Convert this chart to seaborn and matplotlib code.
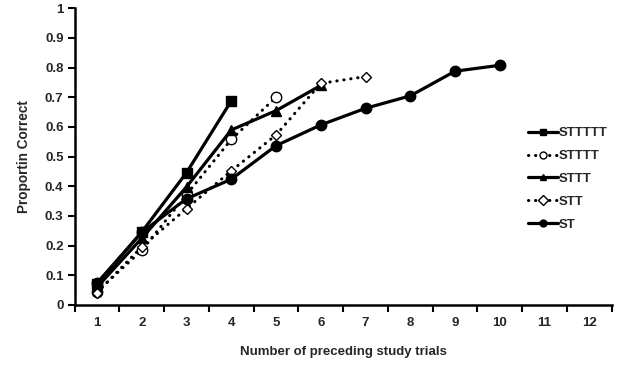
import numpy as np
import pandas as pd
import seaborn as sns
from matplotlib import pyplot as plt

# values
trials = [1, 2, 3, 4, 5, 6, 7, 8, 9, 10]
st_vals = [0.074, 0.245, 0.358, 0.424, 0.537, 0.607, 0.663, 0.705, 0.788, 0.808]
stt_vals = [0.042, 0.196, 0.325, 0.452, 0.573, 0.747, 0.77]
sttt_vals = [0.06, 0.225, 0.398, 0.59, 0.655, 0.74]
stttt_vals = [0.045, 0.184, 0.372, 0.558, 0.70]
sttttt_vals = [0.07, 0.246, 0.446, 0.688]

series_names = ["STTTTT", "STTTT", "STTT", "STT", "ST"]
series_vals = [sttttt_vals, stttt_vals, sttt_vals, stt_vals, st_vals]
markers = ["s", "o", "^", "D", "o"]
filled = [True, False, True, False, True]
dotted = [False, True, False, True, False]
msizes = [7, 7.5, 7, 5.5, 7.5]
xticks = list(range(1, 13))
yticks = [0, 0.1, 0.2, 0.3, 0.4, 0.5, 0.6, 0.7, 0.8, 0.9, 1]

sns.set_style("white")
plt.rcParams['font.family'] = ['Liberation Sans', 'DejaVu Sans']
plt.rcParams['font.weight'] = 'bold'

fig = plt.figure(figsize=(6.25, 3.68), dpi=100)
ax = fig.add_axes([0.1194, 0.1712, 0.8593, 0.8062])

for name, vals, mk, fl, dt, ms in zip(series_names, series_vals, markers, filled, dotted, msizes):
    df = pd.DataFrame({"trial": trials[:len(vals)], "p": vals})
    sns.lineplot(data=df, x="trial", y="p", ax=ax, color="black",
                 linewidth=2.3 if not dt else 2.2,
                 linestyle=(0, (0.1, 2.2)) if dt else "-",
                 dash_capstyle="round",
                 marker=mk, markersize=ms,
                 markerfacecolor="black" if fl else "white",
                 markeredgecolor="black", markeredgewidth=1.0,
                 label=name)

ax.set_xlim(0.5, 12.5)
ax.set_ylim(0, 1)
ax.set_xticks(xticks)
ax.set_xticklabels([str(t) for t in xticks], fontsize=9.5, fontweight="bold")
ax.set_xticks(np.arange(0.5, 13, 1), minor=True)
ax.tick_params(axis="x", which="major", length=0, pad=9)
ax.tick_params(axis="x", which="minor", length=5, width=1.5, direction="out", color="black", bottom=True)
ax.set_yticks(yticks)
ax.set_yticklabels([("%g" % v) for v in yticks], fontsize=9.5, fontweight="bold")
ax.tick_params(axis="y", length=5, width=1.5, direction="out", color="black", left=True, pad=3)

sns.despine(ax=ax)
for s in ["left", "bottom"]:
    ax.spines[s].set_color("black")
    ax.spines[s].set_linewidth(1.8)

ax.set_xlabel("Number of preceding study trials", fontsize=9.5, fontweight="bold", labelpad=12)
ax.set_ylabel("Proportin Correct", fontsize=9.8, fontweight="bold", labelpad=10)

leg = ax.legend(loc="upper left", bbox_to_anchor=(0.835, 0.617), frameon=False,
                fontsize=9.5, handlelength=2.25, handletextpad=0.05,
                labelspacing=0.8, borderaxespad=0)
for t in leg.get_texts():
    t.set_fontweight("bold")
for h in leg.legend_handles:
    h.set_markersize(5)

plt.savefig("out.png", dpi=100)
plt.close()
